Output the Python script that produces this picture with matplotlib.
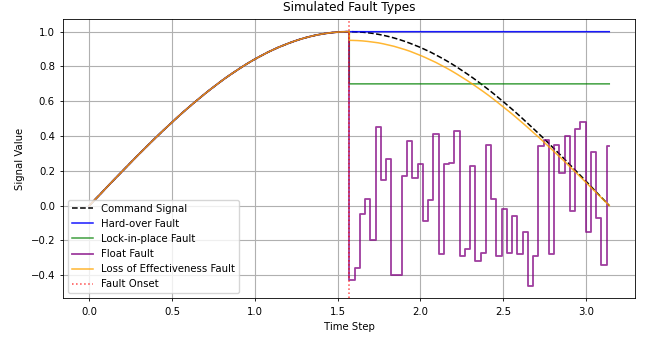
import numpy as np
import matplotlib
matplotlib.use("Agg")
import matplotlib.pyplot as plt

# time axis and fault onset
n_points = 100
t = np.linspace(0, np.pi, n_points)
fault_onset = np.pi / 2

# command signal (half-sine, 100 samples)
command_first_half = [
    0.000, 0.032, 0.063, 0.095, 0.127, 0.158, 0.189, 0.220, 0.251, 0.282,
    0.312, 0.342, 0.372, 0.401, 0.430, 0.458, 0.486, 0.514, 0.541, 0.567,
    0.593, 0.618, 0.643, 0.667, 0.690, 0.713, 0.735, 0.756, 0.776, 0.796,
    0.815, 0.833, 0.850, 0.866, 0.882, 0.896, 0.910, 0.922, 0.934, 0.945,
    0.955, 0.964, 0.972, 0.979, 0.985, 0.990, 0.994, 0.997, 0.999, 1.000,
]
command_second_half = [
    1.000, 0.999, 0.997, 0.994, 0.990, 0.985, 0.979, 0.972, 0.964, 0.955,
    0.945, 0.934, 0.922, 0.910, 0.896, 0.882, 0.866, 0.850, 0.833, 0.815,
    0.796, 0.776, 0.756, 0.735, 0.713, 0.690, 0.667, 0.643, 0.618, 0.593,
    0.567, 0.541, 0.514, 0.486, 0.458, 0.430, 0.401, 0.372, 0.342, 0.312,
    0.282, 0.251, 0.220, 0.189, 0.158, 0.127, 0.095, 0.063, 0.032, 0.000,
]

# values after the onset
hard_over_level = 1.0
lock_level = 0.7
float_after = [
    -0.43, -0.36, -0.05, 0.04, -0.20, 0.45, 0.15, 0.27, -0.40, -0.40,
    0.17, 0.37, 0.16, 0.24, -0.09, 0.03, 0.41, -0.28, 0.24, 0.245,
    0.43, -0.29, -0.25, 0.23, -0.32, -0.27, 0.35, 0.04, -0.29, -0.02,
    -0.27, -0.06, -0.28, -0.15, -0.46, -0.29, 0.34, 0.38, -0.28, 0.35,
    0.19, 0.40, -0.03, 0.44, 0.48, -0.15, 0.31, -0.07, -0.34, 0.34,
]
loss_after = [
    0.950, 0.949, 0.947, 0.944, 0.940, 0.936, 0.930, 0.923, 0.916, 0.907,
    0.898, 0.888, 0.876, 0.864, 0.851, 0.837, 0.823, 0.807, 0.791, 0.774,
    0.756, 0.737, 0.718, 0.698, 0.677, 0.656, 0.634, 0.611, 0.587, 0.563,
    0.539, 0.514, 0.488, 0.462, 0.435, 0.408, 0.381, 0.353, 0.325, 0.296,
    0.268, 0.239, 0.209, 0.180, 0.150, 0.120, 0.090, 0.060, 0.030, 0.000,
]

half = len(command_first_half)
command = np.array(command_first_half + command_second_half)

# fault signals switch exactly at the onset
t_fault = np.concatenate([t[:half], [fault_onset, fault_onset], t[half:]])
def with_fault(after):
    return np.array(command_first_half + [command_first_half[-1], after[0]] + list(after))

hard_over = with_fault([hard_over_level] * len(command_second_half))
lock_in_place = with_fault([lock_level] * len(command_second_half))
loss_eff = with_fault(loss_after)

fs = 7.3
lw = 1.1

fig = plt.figure(figsize=(6.46, 3.39), dpi=100)
ax = fig.add_axes([0.098, 0.120, 0.8854, 0.824])

ax.plot(t, command, 'k--', lw=lw, label='Command Signal')
ax.plot(t_fault, hard_over, color='blue', lw=lw, alpha=0.9, label='Hard-over Fault')
ax.plot(t_fault, lock_in_place, color='green', lw=lw, alpha=0.75, label='Lock-in-place Fault')
# float fault: follows command, then holds random levels
ax.plot(t[:half], command_first_half, color='purple', lw=lw * 1.2, alpha=0.75)
ax.plot(t[half - 1:], [command_first_half[-1]] + float_after, color='purple',
        lw=lw * 1.2, alpha=0.75, drawstyle='steps-mid', label='Float Fault')
ax.plot(t_fault, loss_eff, color='orange', lw=lw, alpha=0.8, label='Loss of Effectiveness Fault')
ax.axvline(fault_onset, color='red', linestyle=':', lw=lw, alpha=0.7, label='Fault Onset')

ax.set_title('Simulated Fault Types', fontsize=fs * 1.2)
ax.set_xlabel('Time Step', fontsize=fs)
ax.set_ylabel('Signal Value', fontsize=fs)
ax.tick_params(labelsize=fs, width=0.6, length=2.5)
for s in ax.spines.values():
    s.set_linewidth(0.6)
ax.grid(True)
ax.legend(loc='lower left', fontsize=fs)

plt.savefig('out.png', dpi=100)
